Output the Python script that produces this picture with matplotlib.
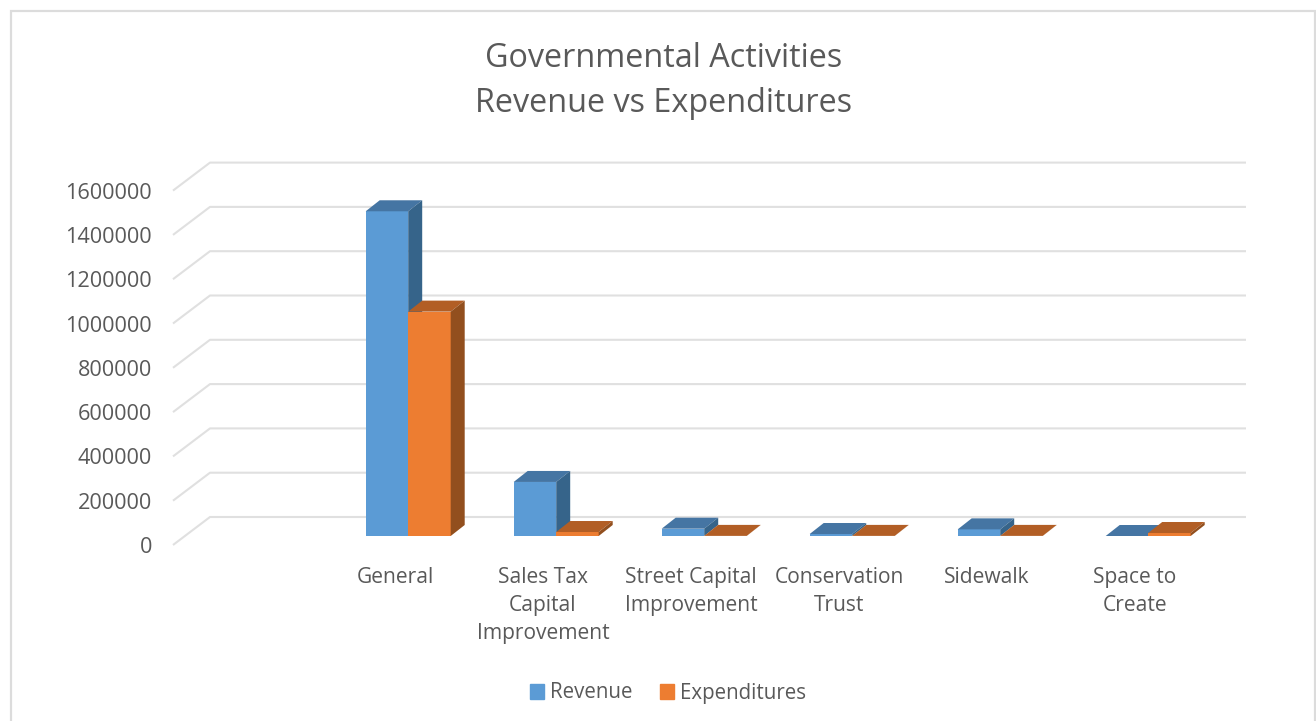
import matplotlib
matplotlib.use("Agg")
import matplotlib.pyplot as plt
from matplotlib.patches import Patch, Rectangle

plt.rcParams['font.family'] = ['Open Sans', 'DejaVu Sans']

categories = ["General", "Sales Tax\nCapital\nImprovement", "Street Capital\nImprovement",
              "Conservation\nTrust", "Sidewalk", "Space to\nCreate"]
revenue = [1466000, 244000, 33000, 9000, 30000, 0]
expenditures = [1013000, 18000, 500, 500, 500, 13500]
y_ticks = [0, 200000, 400000, 600000, 800000, 1000000, 1200000, 1400000, 1600000]

text_color = "#595959"
grid_color = "#e0e0e0"
rev_colors = ("#5b9bd5", "#4575a3", "#36648a")
exp_colors = ("#ed7d31", "#b25e25", "#924f1e")

W, H = 1316, 721
fig = plt.figure(figsize=(W / 100, H / 100), dpi=100)
fig.patches.append(Rectangle((11 / W, -0.01), 1304 / W, 1 - 11 / H + 0.01, transform=fig.transFigure,
                             fill=False, edgecolor="#dcdcdc", linewidth=1.6))

# axes box is the front plane of the fake 3d chart
left, right, bottom, top = 173, 1209, 545, 190.6
ax = fig.add_axes([left / W, 1 - bottom / H, (right - left) / W, (bottom - top) / H])
ax.set_xlim(-1.5, 5.5)
ax.set_ylim(0, 1600000)
for s in ax.spines.values():
    s.set_visible(False)

x_px = (right - left) / 7
y_px = 1600000 / (bottom - top)


def dx(px):
    return px / x_px


def dy(px):
    return px * y_px


# walls: diagonal from front plane to back plane, then along the back
for v in y_ticks:
    ax.plot([-1.5, -1.5 + dx(37), 5.5 + dx(37)], [v, v + dy(28), v + dy(28)],
            color=grid_color, lw=1.5, clip_on=False, zorder=1, solid_capstyle="butt")

bar_w = dx(42.5)
shift_x, shift_y = dx(13.2), dy(9)
depth_x, depth_y = dx(14), dy(11)


def bar3d(x0, value, colors):
    base = shift_y
    x0 = x0 + shift_x
    x1 = x0 + bar_w
    topv = base + value
    ax.bar(x0, value, bar_w, bottom=base, align="edge", color=colors[0], zorder=3, clip_on=False)
    ax.fill([x0, x1, x1 + depth_x, x0 + depth_x], [topv, topv, topv + depth_y, topv + depth_y],
            color=colors[1], lw=0, zorder=3, clip_on=False)
    ax.fill([x1, x1 + depth_x, x1 + depth_x, x1], [base, base + depth_y, topv + depth_y, topv],
            color=colors[2], lw=0, zorder=3, clip_on=False)


for i in range(len(categories)):
    bar3d(i - bar_w, revenue[i], rev_colors)
    bar3d(i, expenditures[i], exp_colors)

ax.set_yticks(y_ticks)
ax.set_yticklabels([str(v) for v in y_ticks], fontsize=15.6, color=text_color)
ax.set_xticks(range(len(categories)))
ax.set_xticklabels(categories, fontsize=15.1, color=text_color, linespacing=1.43)
ax.tick_params(axis="y", length=0, pad=15)
ax.tick_params(axis="x", length=0, pad=16)

fig.text(664 / W, 1 - 81 / H, "Governmental Activities\nRevenue vs Expenditures", ha="center", va="center",
         fontsize=23.3, color=text_color, linespacing=1.46)

handles = [Patch(color=rev_colors[0], label="Revenue"), Patch(color=exp_colors[0], label="Expenditures")]
fig.legend(handles=handles, loc="center", bbox_to_anchor=(668 / W, 1 - 693 / H), ncol=2, frameon=False,
           fontsize=14.8, labelcolor=text_color, handlelength=0.7, handleheight=0.7, handletextpad=0.3,
           columnspacing=1.3)

fig.savefig("out.png", dpi=100)
